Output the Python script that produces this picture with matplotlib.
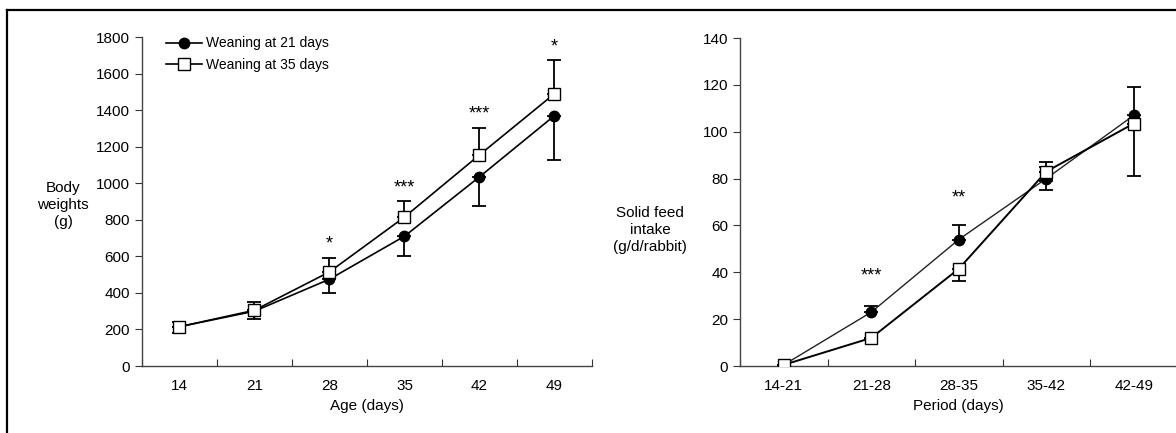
import matplotlib
matplotlib.use('Agg')
import matplotlib.pyplot as plt
import numpy as np
from matplotlib.lines import Line2D

plt.rcParams['font.family'] = ['Liberation Sans', 'DejaVu Sans']

# body weights (left panel)
ages = ['14', '21', '28', '35', '42', '49']
bw_21 = [215, 300, 475, 710, 1035, 1370]
bw_21_err = [35, 45, 75, 110, 160, 245]
bw_35 = [215, 305, 515, 815, 1155, 1490]
bw_35_err = [25, 45, 75, 90, 145, 185]
bw_stars = ['', '', '*', '***', '***', '*']
bw_star_y = [0, 0, 620, 930, 1330, 1700]

# solid feed intake (right panel)
periods = ['14-21', '21-28', '28-35', '35-42', '42-49']
fi_21 = [0.5, 23, 54, 80, 107]
fi_21_err = [0, 2.5, 6, 5, 12]
fi_35 = [0.5, 12, 41.5, 83, 103.5]
fi_35_err = [0, 0, 5, 4, 22.5]
fi_stars = ['', '***', '**', '', '']
fi_star_y = [0, 35, 68, 0, 0]

fig = plt.figure(figsize=(11.76, 4.33), dpi=100)

def style_axes(ax, n, ymax, ystep):
    ax.set_xlim(0, n)
    ax.set_ylim(0, ymax)
    ax.set_yticks(np.arange(0, ymax + 1, ystep))
    ax.set_xticks(np.arange(0, n + 1))
    ax.set_xticklabels([])
    ax.set_xticks(np.arange(n) + 0.5, minor=True)
    ax.tick_params(axis='x', which='minor', length=0, labelsize=11, pad=9)
    ax.tick_params(axis='x', which='major', length=5, direction='in', color='#333333')
    ax.tick_params(axis='y', length=5, direction='out', labelsize=11, color='#333333')
    for s in ['top', 'right']:
        ax.spines[s].set_visible(False)
    for s in ['left', 'bottom']:
        ax.spines[s].set_color('#444444')
        ax.spines[s].set_linewidth(1.0)
    ax.spines['bottom'].set_zorder(0)

# left panel
ax1 = fig.add_axes([0.1207, 0.1547, 0.3827, 0.7598])
x1 = np.arange(len(ages)) + 0.5
ax1.errorbar(x1, bw_21, yerr=[bw_21_err, np.zeros(len(ages))], fmt='none', ecolor='black',
             elinewidth=1.3, capsize=5, capthick=1.3, zorder=2)
ax1.errorbar(x1, bw_35, yerr=[np.zeros(len(ages)), bw_35_err], fmt='none', ecolor='black',
             elinewidth=1.3, capsize=5, capthick=1.3, zorder=2)
ax1.plot(x1, bw_21, color='black', lw=1.2, marker='o', ms=7.5, mfc='black', mec='black', zorder=3)
ax1.plot(x1, bw_35, color='black', lw=1.2, marker='s', ms=8, mfc='white', mec='black', mew=1.0, zorder=4)
for xi, s, yy in zip(x1, bw_stars, bw_star_y):
    if s:
        ax1.text(xi, yy, s, ha='center', va='bottom', fontsize=13)
style_axes(ax1, len(ages), 1800, 200)
ax1.set_xticklabels(ages, minor=True)
ax1.set_xlabel('Age (days)', fontsize=11, labelpad=5)
ax1.text(-0.175, 0.49, 'Body\nweights\n(g)', transform=ax1.transAxes, ha='center', va='center',
         fontsize=11, linespacing=1.25)
handles = [Line2D([], [], color='black', lw=1.2, marker='o', ms=7.5, mfc='black'),
           Line2D([], [], color='black', lw=1.2, marker='s', ms=8, mfc='white')]
ax1.legend(handles, ['Weaning at 21 days', 'Weaning at 35 days'], loc='upper left',
           bbox_to_anchor=(0.025, 1.04), frameon=False, fontsize=10, handlelength=2.6,
           handletextpad=0.3, labelspacing=0.55)

# right panel
ax2 = fig.add_axes([0.6293, 0.1547, 0.3720, 0.7575])
x2 = np.arange(len(periods)) + 0.5
ax2.errorbar(x2, fi_21, yerr=[np.zeros(len(periods)), fi_21_err], fmt='none', ecolor='black',
             elinewidth=1.3, capsize=5, capthick=1.3, zorder=2)
ax2.errorbar(x2, fi_35, yerr=[fi_35_err, np.zeros(len(periods))], fmt='none', ecolor='black',
             elinewidth=1.3, capsize=5, capthick=1.3, zorder=2)
# errorbars that go the other way where the reference shows them
ax2.errorbar([x2[3]], [fi_21[3]], yerr=[[fi_21_err[3]], [0]], fmt='none', ecolor='black',
             elinewidth=1.3, capsize=5, capthick=1.3, zorder=2)
ax2.errorbar([x2[3]], [fi_35[3]], yerr=[[0], [fi_35_err[3]]], fmt='none', ecolor='black',
             elinewidth=1.3, capsize=5, capthick=1.3, zorder=2)
ax2.plot(x2, fi_21, color='#222222', lw=1.0, marker='o', ms=7.5, mfc='black', mec='black', zorder=3)
ax2.plot(x2, fi_35, color='black', lw=1.4, marker='s', ms=8, mfc='white', mec='black', mew=1.0, zorder=4)
for xi, s, yy in zip(x2, fi_stars, fi_star_y):
    if s:
        ax2.text(xi, yy, s, ha='center', va='bottom', fontsize=13)
style_axes(ax2, len(periods), 140, 20)
ax2.set_xticklabels(periods, minor=True)
ax2.set_xlabel('Period (days)', fontsize=11, labelpad=5)
ax2.text(-0.205, 0.415, 'Solid feed\nintake\n(g/d/rabbit)', transform=ax2.transAxes, ha='center',
         va='center', fontsize=11, linespacing=1.25)

# outer frame (top and left edges)
fig.add_artist(Line2D([0.006, 1.0], [0.977, 0.977], color='black', lw=1.6, transform=fig.transFigure))
fig.add_artist(Line2D([0.006, 0.006], [0.0, 0.977], color='black', lw=1.6, transform=fig.transFigure))

fig.savefig('out.png', dpi=100)
